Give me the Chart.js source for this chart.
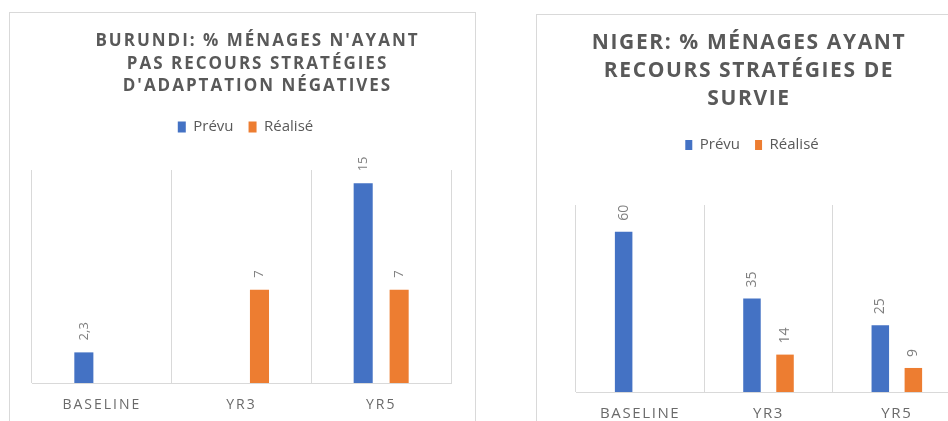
<!DOCTYPE html>
<html>
<head>
<meta charset="utf-8">
<script src="https://cdn.jsdelivr.net/npm/chart.js@4"></script>
<style>
  html, body { margin: 0; padding: 0; background: #fff; }
  body { width: 948px; height: 421px; overflow: hidden; position: relative; }
  .box { position: absolute; border: 1px solid #d9d9d9; overflow: hidden; background: #fff; }
  .box canvas { position: absolute; left: 0; top: 0; }
</style>
</head>
<body>
<div class="box" style="left:9px; top:12px; width:465px; height:430px;">
  <canvas id="burundi" width="495" height="425"></canvas>
</div>
<div class="box" style="left:536px; top:14px; width:440px; height:430px;">
  <canvas id="niger" width="424" height="426"></canvas>
</div>
<script>
// data
var categories = ['BASELINE', 'YR3', 'YR5'];
var seriesNames = ['Prévu', 'Réalisé'];
var burundiTitle = ["BURUNDI: % MÉNAGES N'AYANT", 'PAS RECOURS STRATÉGIES', "D'ADAPTATION NÉGATIVES"];
var burundiPrevu = [2.3, null, 15];
var burundiRealise = [null, 7, 7];
var nigerTitle = ['NIGER: % MÉNAGES AYANT', 'RECOURS STRATÉGIES DE', 'SURVIE'];
var nigerPrevu = [60, 35, 25];
var nigerRealise = [null, 14, 9];

var BLUE = '#4472C4';
var ORANGE = '#ED7D31';
var GRID = '#d9d9d9';
var FONT = "'Open Sans', 'Noto Sans', sans-serif";

// letter spacing for title + ticks, none for legend and value labels
function textPlugin(spacing, labelSize, gap, legendShift) {
    return {
        id: 'textStyle',
        afterInit: function (chart) {
            var legend = chart.legend;
            var draw = legend.draw;
            legend.draw = function () {
                this.ctx.letterSpacing = '0px';
                draw.apply(this, arguments);
                this.ctx.letterSpacing = spacing;
            };
        },
        beforeLayout: function (chart) { chart.ctx.letterSpacing = '0px'; },
        afterLayout: function (chart) {
            chart.legend.left += legendShift;
            chart.legend.right += legendShift;
        },
        beforeDraw: function (chart) { chart.ctx.letterSpacing = spacing; },
        afterDatasetsDraw: function (chart) {
            var ctx = chart.ctx;
            ctx.save();
            ctx.letterSpacing = '0px';
            ctx.font = labelSize + 'px ' + FONT;
            ctx.fillStyle = '#7f7f7f';
            ctx.textAlign = 'left';
            ctx.textBaseline = 'middle';
            chart.data.datasets.forEach(function (ds, i) {
                chart.getDatasetMeta(i).data.forEach(function (bar, j) {
                    var v = ds.data[j];
                    if (v === null || v === undefined) return;
                    ctx.save();
                    ctx.translate(bar.x, bar.y - gap);
                    ctx.rotate(-Math.PI / 2);
                    ctx.fillText(String(v).replace('.', ','), 0, 0);
                    ctx.restore();
                });
            });
            ctx.restore();
        },
        afterDraw: function (chart) { chart.ctx.letterSpacing = '0px'; }
    };
}

function makeChart(id, title, prevu, realise, o) {
    return new Chart(document.getElementById(id), {
        type: 'bar',
        data: {
            labels: categories,
            datasets: [
                { label: seriesNames[0], data: prevu, backgroundColor: BLUE },
                { label: seriesNames[1], data: realise, backgroundColor: ORANGE }
            ]
        },
        options: {
            responsive: false,
            animation: false,
            categoryPercentage: 0.515,
            barPercentage: 0.53,
            layout: { padding: { top: 0, left: 0, right: 0, bottom: o.padBottom } },
            plugins: {
                tooltip: { enabled: false },
                title: {
                    display: true,
                    text: title,
                    color: '#595959',
                    font: { family: FONT, size: o.titleSize, weight: 'bold', lineHeight: o.titleLH + 'px' },
                    padding: { top: o.titleTop, bottom: o.titleBottom }
                },
                legend: {
                    position: 'top',
                    labels: {
                        color: '#595959',
                        font: { family: FONT, size: 15 },
                        boxWidth: o.boxW,
                        boxHeight: o.boxH,
                        padding: 15
                    }
                }
            },
            scales: {
                x: {
                    grid: { color: GRID, drawTicks: false },
                    border: { color: GRID },
                    ticks: { color: '#6a6a6a', padding: o.tickPad, font: { family: FONT, size: o.tickSize } }
                },
                x2: {
                    type: 'category',
                    position: 'top',
                    grid: { display: false },
                    border: { display: false },
                    ticks: { display: false },
                    afterFit: function (s) { s.height = o.topGap; }
                },
                y: {
                    min: 0,
                    max: o.yMax,
                    grid: { display: false },
                    border: { display: false },
                    ticks: { display: false },
                    afterFit: function (s) { s.width = o.yLeft; }
                },
                y2: {
                    position: 'right',
                    min: 0,
                    max: o.yMax,
                    grid: { display: false },
                    border: { display: false },
                    ticks: { display: false },
                    afterFit: function (s) { s.width = o.yRight; }
                }
            }
        },
        plugins: [textPlugin(o.spacing, o.labelSize, o.labelGap, o.legendShift)]
    });
}

makeChart('burundi', burundiTitle, burundiPrevu, burundiRealise, {
    spacing: '2px', titleSize: 17, titleLH: 22.5, titleTop: 17, titleBottom: 7,
    boxW: 8, boxH: 11, topGap: 25.5, yMax: 16, yLeft: 22, yRight: 54,
    tickSize: 14, tickPad: 14, padBottom: 10.2, labelSize: 13, labelGap: 12, legendShift: -12
});

makeChart('niger', nigerTitle, nigerPrevu, nigerRealise, {
    spacing: '1.6px', titleSize: 21, titleLH: 28, titleTop: 14, titleBottom: 9.5,
    boxW: 7, boxH: 10, topGap: 42.5, yMax: 70, yLeft: 39, yRight: 0,
    tickSize: 15, tickPad: 13, padBottom: 5, labelSize: 14, labelGap: 11, legendShift: 3
});
</script>
</body>
</html>
